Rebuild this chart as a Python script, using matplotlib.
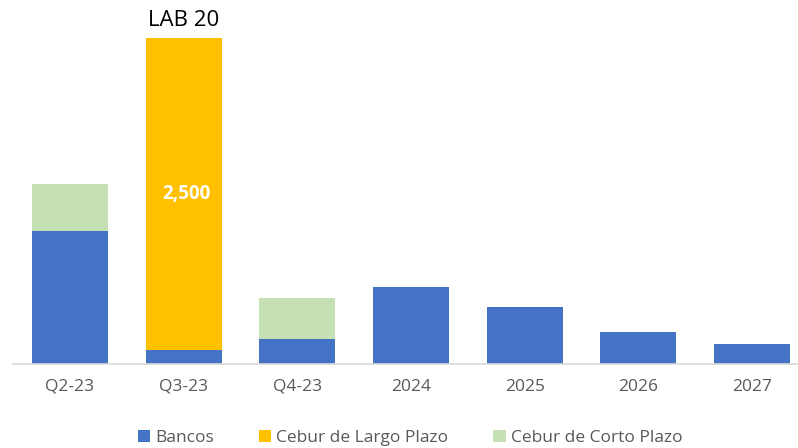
import numpy as np
import matplotlib
matplotlib.use('Agg')
import matplotlib.pyplot as plt

# datos (millones)
categorias = ['Q2-23', 'Q3-23', 'Q4-23', '2024', '2025', '2026', '2027']
bancos      = [1060, 107, 197, 617, 451, 253, 155]
cebur_largo = [0, 2500, 0, 0, 0, 0, 0]
cebur_corto = [377, 0, 329, 0, 0, 0, 0]

plt.rcParams['font.family'] = ['Open Sans', 'DejaVu Sans']

W, H = 798, 448
fig = plt.figure(figsize=(W / 100, H / 100), dpi=100)

# ejes en pixeles: base en y=363.5, paso de categoria ~113.6 px
px_per_unit = 1 / 8.013
ax_top_px = 0
base_px = 363.5
ax_h_px = base_px - ax_top_px
ax = fig.add_axes([13.2 / W, (H - base_px) / H, 795.6 / W, ax_h_px / H])

x = np.arange(len(categorias))
ancho = 0.67
c_bancos, c_largo, c_corto = '#4472C4', '#FFC000', '#C5E0B4'

b1 = ax.bar(x, bancos, ancho, color=c_bancos, label='Bancos')
bottom2 = np.array(bancos)
b2 = ax.bar(x, cebur_largo, ancho, bottom=bottom2, color=c_largo,
            label='Cebur de Largo Plazo')
bottom3 = bottom2 + np.array(cebur_largo)
b3 = ax.bar(x, cebur_corto, ancho, bottom=bottom3, color=c_corto,
            label='Cebur de Corto Plazo')

ax.set_xlim(-0.5, len(categorias) - 0.5)
ax.set_ylim(0, ax_h_px / px_per_unit)

# etiqueta del tramo Cebur de Largo Plazo
i = 1
ax.text(x[i] + 0.02, bottom2[i] + cebur_largo[i] * 0.5, f'{cebur_largo[i]:,}',
        ha='center', va='center', color='white', fontsize=13.5, fontweight='bold')
ax.text(x[i], bottom3[i] + 145, 'LAB 20', ha='center', va='center',
        color='black', fontsize=16)

ax.set_xticks(x)
ax.set_xticklabels(categorias, fontsize=12.5, color='#595959')
ax.tick_params(axis='x', length=0, pad=11)
ax.set_yticks([])
for s in ['top', 'right', 'left']:
    ax.spines[s].set_visible(False)
ax.spines['bottom'].set_color('#D9D9D9')
ax.spines['bottom'].set_linewidth(1.2)

fig.legend(handles=[b1, b2, b3], loc='center', bbox_to_anchor=(410 / W, 1 - 438 / H),
           ncol=3, frameon=False, fontsize=12.5, handlelength=0.7, handleheight=0.7,
           handletextpad=0.3, columnspacing=2.6, labelcolor='#595959')

fig.savefig('out.png', dpi=100)
